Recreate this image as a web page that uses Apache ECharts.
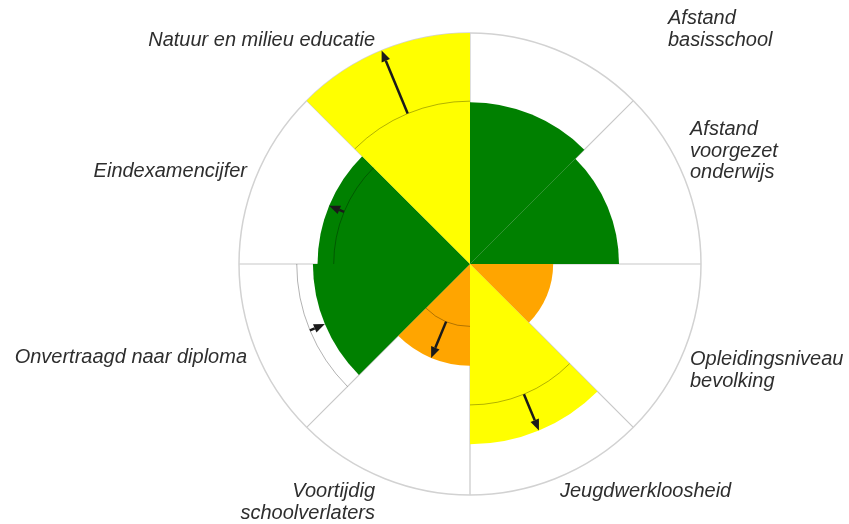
<!DOCTYPE html>
<html>
<head>
<meta charset="utf-8">
<script src="https://cdn.jsdelivr.net/npm/echarts@6/dist/echarts.min.js"></script>
<style>html,body{margin:0;background:#fff}#main{width:849px;height:524px}</style>
</head>
<body>
<div id="main"></div>
<script>
// categories clockwise from the top
var categories = ['Afstand\nbasisschool', 'Afstand\nvoorgezet\nonderwijs', 'Opleidingsniveau\nbevolking', 'Jeugdwerkloosheid',
    'Voortijdig\nschoolverlaters', 'Onvertraagd naar diploma', 'Eindexamencijfer', 'Natuur en milieu educatie'];
var scores = [70, 64.5, 36, 78, 44, 68, 66, 100];
var previous = [null, null, null, 61, 27, 75, 59, 70.5];
var ratings = ['good', 'good', 'warn', 'mid', 'warn', 'good', 'good', 'mid'];

var palette = { good: '#008000', mid: '#ffff00', warn: '#ffa500' };

// label placement [x, top, align]
var labelPos = [[668, 8, 'left'], [690, 119, 'left'], [690, 349, 'left'], [560, 481, 'left'],
    [375, 481, 'right'], [247, 347, 'right'], [247, 161, 'right'], [375, 30, 'right']];

var trend = [];
previous.forEach(function (p, i) {
    if (p != null) trend.push([p, i, scores[i]]);
});

var chart = echarts.init(document.getElementById('main'));

chart.setOption({
    animation: false,
    polar: { center: [470, 264], radius: 231 },
    angleAxis: {
        type: 'category',
        data: categories,
        startAngle: 90,
        clockwise: true,
        axisLine: { lineStyle: { color: '#d2d2d2', width: 1.5 } },
        axisTick: { show: false },
        axisLabel: { show: false },
        splitLine: { show: true, lineStyle: { color: '#c8c8c8', width: 1.2 } }
    },
    radiusAxis: {
        type: 'value', min: 0, max: 100,
        axisLine: { show: false }, axisTick: { show: false },
        axisLabel: { show: false }, splitLine: { show: false }
    },
    series: [{
        type: 'bar',
        coordinateSystem: 'polar',
        barCategoryGap: '0%',
        silent: true,
        data: scores.map(function (v, i) {
            return { value: v, itemStyle: { color: palette[ratings[i]] } };
        })
    }, {
        type: 'custom',
        coordinateSystem: 'polar',
        encode: { radius: 0, angle: 1 },
        z: 5,
        silent: true,
        data: trend,
        renderItem: function (params, api) {
            var prev = api.value(0), idx = api.value(1), cur = api.value(2);
            var c = api.coord([0, idx]);
            var a = api.coord([prev, idx]);
            var b = api.coord([cur, idx]);
            var ang = Math.atan2(a[1] - c[1], a[0] - c[0]);
            var r0 = Math.sqrt((a[0] - c[0]) * (a[0] - c[0]) + (a[1] - c[1]) * (a[1] - c[1]));
            var half = Math.PI / categories.length;
            var dx = Math.cos(ang), dy = Math.sin(ang);
            var dir = cur > prev ? 1 : -1;
            var head = 11, w = 4.5;
            var base = [b[0] - dir * dx * head, b[1] - dir * dy * head];
            var nx = -dy, ny = dx;
            return {
                type: 'group',
                children: [{
                    type: 'arc',
                    shape: { cx: c[0], cy: c[1], r: r0, startAngle: ang - half, endAngle: ang + half },
                    style: { stroke: 'rgba(0,0,0,0.3)', fill: null, lineWidth: 1 }
                }, {
                    type: 'line',
                    shape: { x1: a[0], y1: a[1], x2: base[0], y2: base[1] },
                    style: { stroke: '#1a1a1a', lineWidth: 2.5 }
                }, {
                    type: 'polygon',
                    shape: { points: [b, [base[0] + nx * w, base[1] + ny * w], [base[0] - nx * w, base[1] - ny * w]] },
                    style: { fill: '#1a1a1a' }
                }]
            };
        }
    }],
    graphic: categories.map(function (t, i) {
        return {
            type: 'text',
            x: labelPos[i][0],
            y: labelPos[i][1],
            silent: true,
            style: {
                text: t,
                align: labelPos[i][2],
                verticalAlign: 'top',
                font: 'italic 20px "Liberation Sans"',
                fill: '#2e2e2e',
                lineHeight: 21.5
            }
        };
    })
});
</script>
</body>
</html>
